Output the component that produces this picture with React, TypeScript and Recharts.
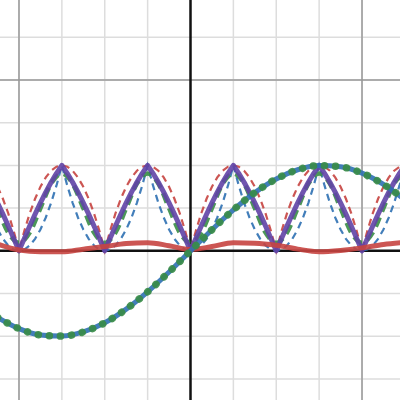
import React from "react";
import { ComposedChart, Line, XAxis, YAxis, ReferenceLine } from "recharts";

// grid positions (graph units)
const GRID_X = [-4, -3, -2, -1, 1, 2, 3, 4];
const MAJOR_X = [-4, 4];
const GRID_Y = [-3, -2, -1, 1, 2, 3, 4, 5];
const MAJOR_Y = [4];

// fine sample grid
const FINE_X = [
  -4.5, -4.375, -4.25, -4.125, -4, -3.875, -3.75, -3.625, -3.5, -3.375, -3.25, -3.125, -3,
  -2.875, -2.75, -2.625, -2.5, -2.375, -2.25, -2.125, -2, -1.875, -1.75, -1.625, -1.5, -1.375,
  -1.25, -1.125, -1, -0.875, -0.75, -0.625, -0.5, -0.375, -0.25, -0.125, 0, 0.125, 0.25, 0.375,
  0.5, 0.625, 0.75, 0.875, 1, 1.125, 1.25, 1.375, 1.5, 1.625, 1.75, 1.875, 2, 2.125, 2.25, 2.375,
  2.5, 2.625, 2.75, 2.875, 3, 3.125, 3.25, 3.375, 3.5, 3.625, 3.75, 3.875, 4, 4.125, 4.25, 4.375,
  4.5, 4.625, 4.75, 4.875, 5,
];

// purple solid humps
const PURPLE_Y = [
  1.124, 0.858, 0.58, 0.292, 0,
  0.292, 0.58, 0.858, 1.124, 1.374, 1.604, 1.814, 2,
  1.814, 1.604, 1.374, 1.124, 0.858, 0.58, 0.292, 0,
  0.292, 0.58, 0.858, 1.124, 1.374, 1.604, 1.814, 2,
  1.814, 1.604, 1.374, 1.124, 0.858, 0.58, 0.292, 0,
  0.292, 0.58, 0.858, 1.124, 1.374, 1.604, 1.814, 2,
  1.814, 1.604, 1.374, 1.124, 0.858, 0.58, 0.292, 0,
  0.292, 0.58, 0.858, 1.124, 1.374, 1.604, 1.814, 2,
  1.814, 1.604, 1.374, 1.124, 0.858, 0.58, 0.292, 0,
  0.292, 0.58, 0.858, 1.124, 1.374, 1.604, 1.814, 2,
];

// red dashed (parabolic humps)
const RED_DASH_Y = [
  1.5, 1.219, 0.875, 0.469, 0,
  0.469, 0.875, 1.219, 1.5, 1.719, 1.875, 1.969, 2,
  1.969, 1.875, 1.719, 1.5, 1.219, 0.875, 0.469, 0,
  0.469, 0.875, 1.219, 1.5, 1.719, 1.875, 1.969, 2,
  1.969, 1.875, 1.719, 1.5, 1.219, 0.875, 0.469, 0,
  0.469, 0.875, 1.219, 1.5, 1.719, 1.875, 1.969, 2,
  1.969, 1.875, 1.719, 1.5, 1.219, 0.875, 0.469, 0,
  0.469, 0.875, 1.219, 1.5, 1.719, 1.875, 1.969, 2,
  1.969, 1.875, 1.719, 1.5, 1.219, 0.875, 0.469, 0,
  0.469, 0.875, 1.219, 1.5, 1.719, 1.875, 1.969, 2,
];

// blue dashed (narrow humps)
const BLUE_DASH_Y = [
  0.5, 0.281, 0.125, 0.031, 0,
  0.031, 0.125, 0.281, 0.5, 0.781, 1.125, 1.531, 2,
  1.531, 1.125, 0.781, 0.5, 0.281, 0.125, 0.031, 0,
  0.031, 0.125, 0.281, 0.5, 0.781, 1.125, 1.531, 2,
  1.531, 1.125, 0.781, 0.5, 0.281, 0.125, 0.031, 0,
  0.031, 0.125, 0.281, 0.5, 0.781, 1.125, 1.531, 2,
  1.531, 1.125, 0.781, 0.5, 0.281, 0.125, 0.031, 0,
  0.031, 0.125, 0.281, 0.5, 0.781, 1.125, 1.531, 2,
  1.531, 1.125, 0.781, 0.5, 0.281, 0.125, 0.031, 0,
  0.031, 0.125, 0.281, 0.5, 0.781, 1.125, 1.531, 2,
];

// medium sample grid
const MID_X = [
  -4.5, -4.25, -4, -3.75, -3.5, -3.25, -3, -2.75, -2.5, -2.25, -2, -1.75, -1.5, -1.25, -1,
  -0.75, -0.5, -0.25, 0, 0.25, 0.5, 0.75, 1, 1.25, 1.5, 1.75, 2, 2.25, 2.5, 2.75, 3, 3.25,
  3.5, 3.75, 4, 4.25, 4.5, 4.75, 5,
];

// green dashed (smooth approximation)
const GREEN_DASH_Y = [
  1, 0.427, 0.189, 0.427, 1, 1.573, 1.811, 1.573,
  1, 0.427, 0.189, 0.427, 1, 1.573, 1.811, 1.573,
  1, 0.427, 0.189, 0.427, 1, 1.573, 1.811, 1.573,
  1, 0.427, 0.189, 0.427, 1, 1.573, 1.811, 1.573,
  1, 0.427, 0.189, 0.427, 1, 1.573, 1.811,
];

// coarse sample grid
const COARSE_X = [
  -4.5, -4, -3.5, -3, -2.5, -2, -1.5, -1, -0.5, 0, 0.5, 1, 1.5, 2, 2.5, 3, 3.5, 4, 4.5, 5,
];

// big sine wave (blue + green dots)
const BIG_SINE_Y = [
  -1.556, -1.819, -1.968, -1.995, -1.898, -1.683, -1.363, -0.959, -0.495, 0,
  0.495, 0.959, 1.363, 1.683, 1.898, 1.995, 1.968, 1.819, 1.556, 1.196,
];

// small red solid wave near the axis
const RED_SOLID_Y = [
  0.16, 0.02, -0.02, -0.02, 0.04, 0.1, 0.17, 0.19, 0.12, 0.03,
  0.1, 0.19, 0.18, 0.13, 0.04, -0.02, 0.01, 0.07, 0.15, 0.2,
];

const zip = (xs: number[], ys: number[]) => xs.map((x, i) => ({ x, y: ys[i] }));

const purpleData = zip(FINE_X, PURPLE_Y);
const redDashData = zip(FINE_X, RED_DASH_Y);
const blueDashData = zip(FINE_X, BLUE_DASH_Y);
const greenDashData = zip(MID_X, GREEN_DASH_Y);
const bigSineData = zip(COARSE_X, BIG_SINE_Y);
const redSolidData = zip(COARSE_X, RED_SOLID_Y);

const RED = "#c74440";
const BLUE = "#2d70b3";
const GREEN = "#388c46";
const PURPLE = "#6042a6";

export default function App() {
  return (
    <div style={{ position: "absolute", left: 0, top: 0, width: 400, height: 400, background: "#fff" }}>
      <ComposedChart width={400} height={400} margin={{ top: 0, right: 0, bottom: 0, left: 0 }}>
        <XAxis type="number" dataKey="x" domain={[-4.443, 4.886]} hide allowDataOverflow />
        <YAxis type="number" dataKey="y" domain={[-3.49, 5.87]} hide allowDataOverflow />
        {GRID_X.map((v) => (
          <ReferenceLine key={"gx" + v} x={v} stroke="#dddddd" strokeWidth={1.5} />
        ))}
        {GRID_Y.map((v) => (
          <ReferenceLine key={"gy" + v} y={v} stroke="#dddddd" strokeWidth={1.5} />
        ))}
        {MAJOR_X.map((v) => (
          <ReferenceLine key={"mx" + v} x={v} stroke="#999999" strokeWidth={1.5} />
        ))}
        {MAJOR_Y.map((v) => (
          <ReferenceLine key={"my" + v} y={v} stroke="#999999" strokeWidth={1.5} />
        ))}
        <ReferenceLine x={0} stroke="#111111" strokeWidth={2.5} />
        <ReferenceLine y={0} stroke="#111111" strokeWidth={2.5} />

        <Line data={redDashData} dataKey="y" type="linear" stroke={RED} strokeWidth={2.2}
          strokeDasharray="7 5" strokeOpacity={0.9} dot={false} activeDot={false} isAnimationActive={false} />
        <Line data={blueDashData} dataKey="y" type="linear" stroke={BLUE} strokeWidth={2.2}
          strokeDasharray="7 5" strokeOpacity={0.9} dot={false} activeDot={false} isAnimationActive={false} />
        <Line data={greenDashData} dataKey="y" type="monotone" stroke={GREEN} strokeWidth={4.5}
          strokeDasharray="10 6" strokeOpacity={0.9} dot={false} activeDot={false} isAnimationActive={false} />
        <Line data={purpleData} dataKey="y" type="linear" stroke={PURPLE} strokeWidth={5}
          strokeLinejoin="round" strokeOpacity={0.9} dot={false} activeDot={false} isAnimationActive={false} />
        <Line data={redSolidData} dataKey="y" type="monotone" stroke={RED} strokeWidth={5}
          strokeOpacity={0.9} dot={false} activeDot={false} isAnimationActive={false} />
        <Line data={bigSineData} dataKey="y" type="monotone" stroke={BLUE} strokeWidth={5}
          strokeOpacity={0.9} dot={false} activeDot={false} isAnimationActive={false} />
        <Line data={bigSineData} dataKey="y" type="monotone" stroke={GREEN} strokeWidth={7.5}
          strokeDasharray="0.1 11" strokeLinecap="round" strokeOpacity={0.9} dot={false} activeDot={false}
          isAnimationActive={false} />
      </ComposedChart>
    </div>
  );
}
